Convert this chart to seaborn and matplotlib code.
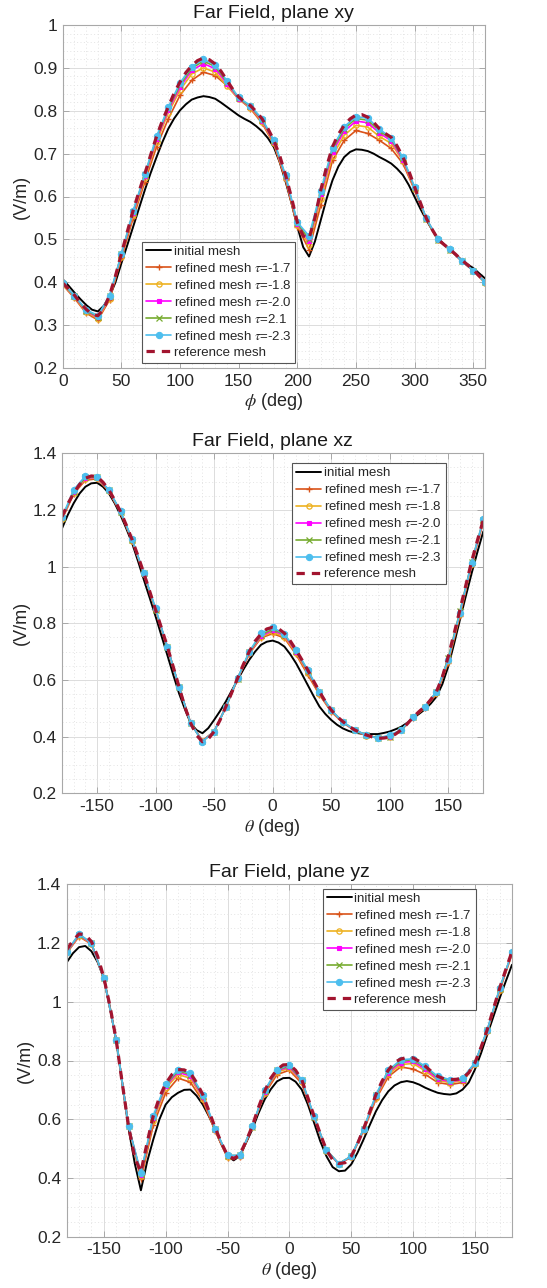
import matplotlib
matplotlib.use('Agg')
import matplotlib.pyplot as plt
import seaborn as sns
from matplotlib.ticker import MultipleLocator, FuncFormatter

# ---------------- data ----------------
# refined meshes sampled every 10 deg (marker positions); initial/reference read every 5 deg
phi_xy = list(range(0, 361, 10))
phi_xy_fine = list(range(0, 361, 5))
theta = list(range(-180, 181, 10))
theta_fine = list(range(-180, 181, 5))

init_xy = [0.407,0.392,0.376,0.361,0.347,0.336,0.332,0.345,0.367,0.400,0.444,0.486,0.529,0.572,0.615,0.655,0.692,0.727,0.758,0.782,
           0.801,0.815,0.826,0.831,0.834,0.832,0.828,0.819,0.809,0.799,0.789,0.781,0.774,0.764,0.752,0.736,0.715,0.680,0.635,0.585,
           0.530,0.482,0.460,0.495,0.545,0.595,0.638,0.670,0.692,0.704,0.710,0.709,0.706,0.700,0.692,0.685,0.677,0.665,0.650,0.627,
           0.599,0.571,0.545,0.522,0.502,0.489,0.477,0.465,0.452,0.442,0.433,0.421,0.409]
t17_xy = [0.394,0.363,0.328,0.312,0.359,0.456,0.549,0.634,0.716,0.781,0.836,0.871,0.890,0.882,0.859,0.828,0.805,0.771,0.722,0.638,0.530,0.476,0.580,0.684,0.731,0.754,0.747,0.731,0.712,0.677,0.615,0.547,0.498,0.476,0.450,0.427,0.399]
t18_xy = [0.396,0.365,0.331,0.315,0.362,0.460,0.556,0.642,0.727,0.795,0.848,0.886,0.900,0.890,0.858,0.827,0.807,0.774,0.724,0.642,0.533,0.487,0.595,0.695,0.743,0.766,0.762,0.740,0.724,0.683,0.617,0.547,0.498,0.476,0.450,0.427,0.399]
t20_xy = [0.397,0.367,0.333,0.318,0.365,0.463,0.561,0.647,0.733,0.801,0.855,0.894,0.910,0.898,0.863,0.828,0.809,0.777,0.727,0.645,0.536,0.496,0.605,0.704,0.752,0.776,0.772,0.748,0.730,0.686,0.619,0.548,0.499,0.476,0.450,0.427,0.400]
t21_xy = [0.397,0.368,0.334,0.320,0.367,0.465,0.564,0.650,0.737,0.805,0.860,0.899,0.916,0.903,0.867,0.829,0.810,0.779,0.729,0.647,0.538,0.500,0.610,0.710,0.758,0.782,0.778,0.753,0.734,0.689,0.620,0.548,0.499,0.476,0.450,0.427,0.400]
t23_xy = [0.398,0.369,0.336,0.322,0.369,0.465,0.566,0.652,0.740,0.808,0.865,0.903,0.920,0.907,0.870,0.831,0.812,0.781,0.731,0.649,0.540,0.508,0.613,0.714,0.763,0.786,0.783,0.757,0.737,0.691,0.622,0.549,0.500,0.477,0.450,0.427,0.400]
ref_xy = [0.398,0.385,0.370,0.352,0.337,0.325,0.322,0.338,0.370,0.415,0.466,0.517,0.567,0.611,0.653,0.697,0.740,0.777,0.809,0.841,
          0.867,0.889,0.905,0.917,0.923,0.919,0.909,0.892,0.871,0.850,0.832,0.821,0.812,0.798,0.781,0.758,0.731,0.695,0.650,0.598,
          0.540,0.508,0.502,0.550,0.615,0.670,0.716,0.745,0.766,0.781,0.790,0.791,0.785,0.773,0.758,0.747,0.738,0.718,0.692,0.660,
          0.622,0.585,0.549,0.523,0.500,0.488,0.477,0.465,0.452,0.441,0.429,0.415,0.402]

init_xz = [1.135,1.183,1.224,1.258,1.282,1.294,1.296,1.282,1.259,1.224,1.182,1.134,1.082,1.019,0.953,0.889,0.824,0.756,0.688,0.619,
           0.553,0.497,0.447,0.423,0.412,0.430,0.459,0.490,0.524,0.562,0.600,0.637,0.671,0.700,0.724,0.735,0.739,0.732,0.718,0.691,
           0.659,0.621,0.582,0.543,0.506,0.480,0.459,0.442,0.429,0.420,0.414,0.411,0.409,0.409,0.409,0.413,0.418,0.426,0.435,0.449,
           0.465,0.480,0.496,0.516,0.541,0.585,0.647,0.727,0.812,0.895,0.976,1.052,1.124]
t17_xz = [1.166,1.257,1.305,1.310,1.266,1.190,1.090,0.973,0.845,0.715,0.574,0.447,0.386,0.418,0.503,0.602,0.692,0.748,0.764,0.748,0.690,0.618,0.548,0.488,0.449,0.422,0.404,0.396,0.401,0.423,0.467,0.500,0.550,0.660,0.825,1.005,1.158]
t18_xz = [1.168,1.260,1.310,1.313,1.268,1.192,1.092,0.974,0.846,0.716,0.575,0.447,0.385,0.418,0.504,0.603,0.694,0.752,0.769,0.752,0.695,0.625,0.552,0.490,0.450,0.423,0.404,0.395,0.400,0.423,0.468,0.503,0.553,0.667,0.832,1.008,1.160]
t20_xz = [1.170,1.263,1.313,1.315,1.269,1.193,1.093,0.975,0.847,0.717,0.576,0.447,0.384,0.418,0.505,0.604,0.696,0.755,0.775,0.757,0.700,0.630,0.555,0.492,0.451,0.423,0.405,0.395,0.400,0.424,0.469,0.505,0.556,0.673,0.838,1.012,1.163]
t21_xz = [1.172,1.265,1.315,1.316,1.270,1.194,1.094,0.976,0.848,0.717,0.576,0.447,0.383,0.418,0.505,0.605,0.698,0.758,0.780,0.760,0.703,0.632,0.557,0.493,0.452,0.424,0.405,0.395,0.400,0.424,0.469,0.505,0.557,0.676,0.842,1.015,1.165]
t23_xz = [1.174,1.271,1.320,1.318,1.271,1.196,1.096,0.976,0.853,0.716,0.576,0.447,0.382,0.418,0.504,0.606,0.700,0.765,0.786,0.762,0.706,0.635,0.559,0.494,0.452,0.424,0.406,0.394,0.406,0.424,0.471,0.506,0.559,0.671,0.838,1.014,1.167]
ref_xz = [1.176,1.222,1.259,1.290,1.312,1.320,1.318,1.298,1.271,1.235,1.194,1.146,1.094,1.037,0.976,0.912,0.847,0.783,0.718,0.647,
          0.576,0.505,0.447,0.405,0.382,0.392,0.418,0.458,0.506,0.555,0.606,0.655,0.700,0.737,0.762,0.780,0.786,0.781,0.765,0.738,
          0.706,0.671,0.635,0.596,0.559,0.524,0.494,0.471,0.453,0.437,0.424,0.414,0.406,0.399,0.394,0.395,0.398,0.409,0.424,0.445,
          0.468,0.488,0.506,0.530,0.559,0.610,0.682,0.763,0.847,0.933,1.018,1.093,1.165]

init_yz = [1.134,1.165,1.186,1.190,1.172,1.135,1.080,0.980,0.868,0.720,0.570,0.450,0.358,0.455,0.531,0.600,0.650,0.675,0.690,0.700,
           0.701,0.680,0.650,0.610,0.565,0.515,0.474,0.460,0.475,0.520,0.565,0.620,0.667,0.702,0.729,0.740,0.741,0.728,0.701,0.650,
           0.588,0.525,0.474,0.437,0.423,0.425,0.446,0.485,0.531,0.580,0.627,0.665,0.695,0.715,0.726,0.730,0.726,0.718,0.707,0.698,
           0.690,0.686,0.684,0.688,0.701,0.725,0.769,0.825,0.888,0.950,1.012,1.070,1.126]
t17_yz = [1.166,1.222,1.196,1.080,0.871,0.576,0.395,0.580,0.690,0.740,0.726,0.662,0.560,0.468,0.470,0.572,0.686,0.752,0.767,0.722,0.603,0.492,0.447,0.471,0.560,0.668,0.745,0.778,0.771,0.752,0.725,0.718,0.725,0.787,0.898,1.038,1.162]
t18_yz = [1.168,1.225,1.198,1.080,0.871,0.576,0.405,0.595,0.705,0.752,0.740,0.670,0.563,0.472,0.474,0.573,0.690,0.761,0.773,0.728,0.606,0.493,0.448,0.472,0.563,0.674,0.753,0.786,0.790,0.764,0.733,0.724,0.732,0.789,0.900,1.041,1.165]
t20_yz = [1.169,1.227,1.199,1.080,0.871,0.576,0.410,0.604,0.712,0.760,0.747,0.676,0.565,0.475,0.476,0.574,0.693,0.765,0.778,0.731,0.608,0.494,0.448,0.473,0.565,0.678,0.759,0.793,0.797,0.770,0.737,0.728,0.735,0.790,0.902,1.043,1.166]
t21_yz = [1.170,1.229,1.200,1.080,0.871,0.576,0.413,0.608,0.716,0.765,0.752,0.680,0.567,0.476,0.477,0.575,0.695,0.767,0.782,0.733,0.609,0.495,0.449,0.474,0.566,0.681,0.763,0.798,0.803,0.776,0.742,0.731,0.738,0.791,0.903,1.044,1.167]
t23_yz = [1.171,1.231,1.200,1.080,0.871,0.576,0.417,0.612,0.721,0.769,0.757,0.684,0.568,0.477,0.477,0.576,0.698,0.769,0.786,0.735,0.610,0.495,0.449,0.474,0.567,0.684,0.767,0.802,0.806,0.780,0.746,0.735,0.740,0.792,0.905,1.046,1.168]
ref_yz = [1.177,1.208,1.231,1.228,1.205,1.155,1.083,0.985,0.871,0.720,0.576,0.470,0.420,0.520,0.612,0.675,0.721,0.752,0.769,0.768,
          0.757,0.725,0.684,0.628,0.571,0.520,0.477,0.465,0.480,0.525,0.576,0.640,0.695,0.740,0.769,0.785,0.786,0.767,0.735,0.673,
          0.610,0.550,0.495,0.462,0.449,0.452,0.474,0.515,0.567,0.625,0.684,0.730,0.767,0.793,0.805,0.810,0.809,0.797,0.780,0.762,
          0.746,0.738,0.735,0.736,0.740,0.758,0.792,0.845,0.905,0.976,1.046,1.110,1.171]

labels_xy = ['initial mesh', r'refined mesh $\tau$=-1.7', r'refined mesh $\tau$=-1.8',
             r'refined mesh $\tau$=-2.0', r'refined mesh $\tau$=2.1', r'refined mesh $\tau$=-2.3',
             'reference mesh']
labels_th = ['initial mesh', r'refined mesh $\tau$=-1.7', r'refined mesh $\tau$=-1.8',
             r'refined mesh $\tau$=-2.0', r'refined mesh $\tau$=-2.1', r'refined mesh $\tau$=-2.3',
             'reference mesh']
titles = ['Far Field, plane xy', 'Far Field, plane xz', 'Far Field, plane yz']

# ---------------- style ----------------
sns.set_theme(style='whitegrid')
plt.rcParams['font.family'] = ['Liberation Sans', 'DejaVu Sans']
plt.rcParams['mathtext.fontset'] = 'stix'

colors = ['black', '#D95319', '#EDB120', '#FF00FF', '#77AC30', '#4DBEEE', '#A2142F']
styles = [
    dict(lw=1.4),
    dict(lw=1.2, marker='+', ms=5, mew=1.0, mec='#D95319'),
    dict(lw=1.2, marker='o', ms=3.8, mew=0.9, mfc='none', mec='#EDB120'),
    dict(lw=1.2, marker='s', ms=3.4, mew=0.8, mec='#FF00FF', mfc='#FF00FF'),
    dict(lw=1.2, marker='x', ms=3.8, mew=0.9, mec='#77AC30'),
    dict(lw=1.2, marker='o', ms=4.5, mew=0.8, mec='#4DBEEE', mfc='#4DBEEE'),
    dict(lw=2.3, dashes=(2.6, 2.2)),
]

SPINE = '#a8a8a8'

fig = plt.figure(figsize=(5.47, 12.88), dpi=100)
W, H = 547.0, 1288.0

def make_axes(l, r, t, b):
    return fig.add_axes([l / W, 1 - b / H, (r - l) / W, (b - t) / H])

ax1 = make_axes(62.7, 485.0, 25.0, 368.0)
ax2 = make_axes(62.0, 483.3, 453.3, 793.3)
ax3 = make_axes(66.7, 512.0, 884.3, 1236.7)

panels = [
    (ax1, phi_xy, phi_xy_fine, [init_xy, t17_xy, t18_xy, t20_xy, t21_xy, t23_xy, ref_xy], labels_xy,
     (0, 360), (0.2, 1.0), 50, 10, 0.1, 0.02, r'$\phi$ (deg)',
     dict(loc='lower left', bbox_to_anchor=(0.188, 0.015))),
    (ax2, theta, theta_fine, [init_xz, t17_xz, t18_xz, t20_xz, t21_xz, t23_xz, ref_xz], labels_th,
     (-180, 180), (0.2, 1.4), 50, 10, 0.2, 0.05, r'$\theta$ (deg)',
     dict(loc='upper right', bbox_to_anchor=(0.911, 0.971))),
    (ax3, theta, theta_fine, [init_yz, t17_yz, t18_yz, t20_yz, t21_yz, t23_yz, ref_yz], labels_th,
     (-180, 180), (0.2, 1.4), 50, 10, 0.2, 0.05, r'$\theta$ (deg)',
     dict(loc='upper right', bbox_to_anchor=(0.919, 0.987))),
]

fmt = FuncFormatter(lambda v, p: ('%g' % round(v, 3)))

for (ax, xs, xs_fine, series, labels, xlim, ylim, xmaj, xmin, ymaj, ymin, xlabel, legkw), title in zip(panels, titles):
    for i, (ys, lab, col, st) in enumerate(zip(series, labels, colors, styles)):
        xv = xs_fine if i in (0, 6) else xs
        sns.lineplot(x=xv, y=ys, ax=ax, color=col, label=lab, **st)
    ax.set_xlim(*xlim)
    ax.set_ylim(*ylim)
    ax.xaxis.set_major_locator(MultipleLocator(xmaj))
    ax.xaxis.set_minor_locator(MultipleLocator(xmin))
    ax.yaxis.set_major_locator(MultipleLocator(ymaj))
    ax.yaxis.set_minor_locator(MultipleLocator(ymin))
    ax.yaxis.set_major_formatter(fmt)
    ax.xaxis.set_major_formatter(fmt)
    ax.set_facecolor('white')
    ax.grid(True, which='major', color='#dcdcdc', lw=0.7, ls='-')
    ax.grid(True, which='minor', color='#e4e4e4', lw=0.7, ls=(0, (1, 2.5)))
    ax.set_axisbelow(True)
    for sp in ax.spines.values():
        sp.set_visible(True)
        sp.set_color(SPINE)
        sp.set_linewidth(0.8)
    ax.tick_params(which='major', direction='in', length=4, width=0.7, color=SPINE,
                   top=True, right=True, bottom=True, left=True,
                   labelsize=12.5, labelcolor='#262626', pad=4)
    ax.tick_params(which='minor', length=0)
    ax.set_title(title, fontsize=14, color='#1a1a1a', pad=5)
    ax.set_xlabel(xlabel, fontsize=13, color='#262626', labelpad=2)
    ax.set_ylabel('(V/m)', fontsize=13, color='#262626', labelpad=2)
    leg = ax.legend(fontsize=9.5, frameon=True, fancybox=False, framealpha=1,
                    edgecolor='#555555', borderaxespad=0, borderpad=0.3,
                    labelspacing=0.3, handlelength=1.9, handletextpad=0.2,
                    **legkw)
    leg.get_frame().set_linewidth(0.8)

fig.savefig('out.png', dpi=100)
